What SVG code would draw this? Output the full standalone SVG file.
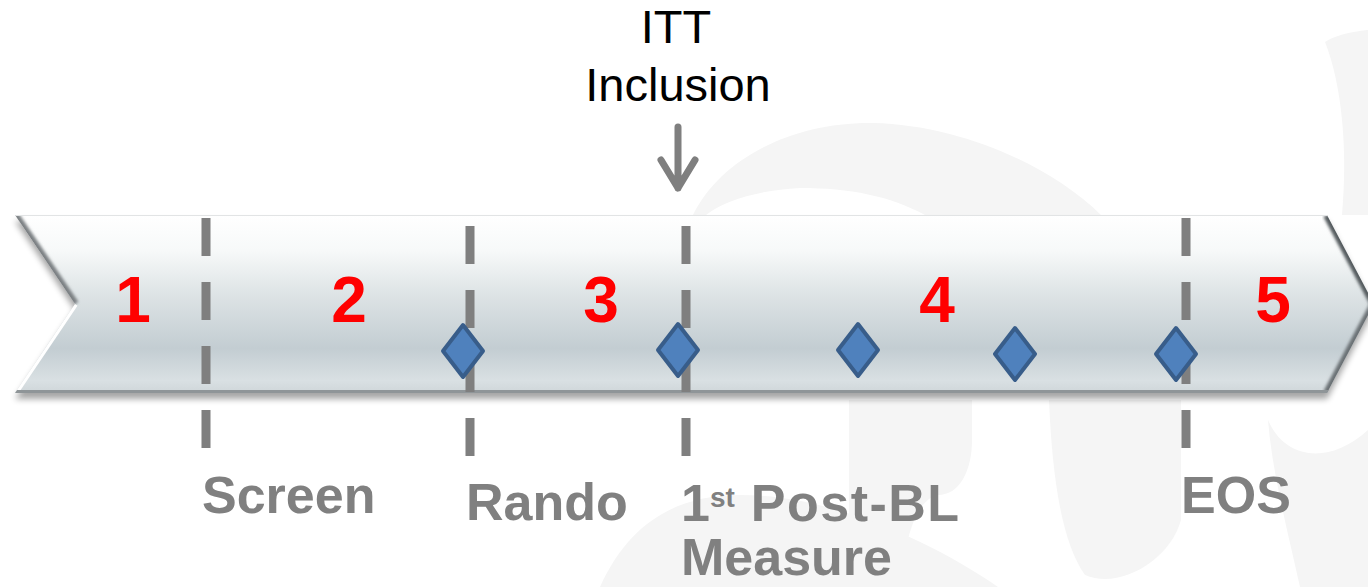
<svg xmlns="http://www.w3.org/2000/svg" width="1368" height="587" viewBox="0 0 1368 587">
  <defs>
    <style>
      .phase { font-family: "Liberation Sans", Arial, sans-serif; font-weight: bold; font-size: 64px; fill: #ff0000; text-anchor: middle; }
      .label { font-family: "Liberation Sans", Arial, sans-serif; font-weight: bold; font-size: 52px; fill: #808080; }
      .callout { font-family: "Liberation Sans", Arial, sans-serif; font-size: 47px; fill: #000000; text-anchor: middle; }
      .marker { stroke: #7f7f7f; stroke-width: 9; stroke-dasharray: 38 26; fill: none; }
      .visit { fill: #4f81bd; stroke: #385d8a; stroke-width: 4; stroke-linejoin: round; }
      .wm { fill: #f5f5f5; }
    </style>
    <linearGradient id="barFill" x1="0" y1="215" x2="0" y2="393" gradientUnits="userSpaceOnUse">
      <stop offset="0" stop-color="#ffffff"/>
      <stop offset="0.2" stop-color="#f7f9f9"/>
      <stop offset="0.45" stop-color="#dde3e5"/>
      <stop offset="0.75" stop-color="#c3cdd2"/>
      <stop offset="0.93" stop-color="#d9e0e3"/>
      <stop offset="1" stop-color="#cfd6d9"/>
    </linearGradient>
    <filter id="soft" x="-5%" y="-20%" width="110%" height="140%">
      <feGaussianBlur stdDeviation="3"/>
    </filter>
    <filter id="edgeBlur" x="-10%" y="-10%" width="120%" height="120%">
      <feGaussianBlur stdDeviation="1.5"/>
    </filter>
    <clipPath id="barClip">
      <polygon points="15,215 1327,215 1374,304 1327,393 15,393 75,304"/>
    </clipPath>
    <path id="diamond" d="M 0 -26 L 20 0 L 0 26 L -20 0 Z"/>
  </defs>

  <rect width="1368" height="587" fill="#ffffff"/>

  <!-- faint watermark artwork in the background -->
  <g id="watermark">
    <path class="wm" d="M 693 215 C 720 160 790 122 873 123 C 960 125 1050 165 1101 215 L 925 215 C 890 196 850 188 800 188 C 760 190 725 200 706 215 Z"/>
    <path class="wm" d="M 1325 42 C 1340 32 1368 30 1368 30 L 1368 215 L 1342 215 C 1348 150 1342 85 1325 42 Z"/>
    <path class="wm" d="M 849 400 L 849 587 L 900 587 C 905 540 915 500 938 495 C 960 495 972 470 972 440 L 972 400 Z"/>
    <path class="wm" d="M 1049 400 C 1052 470 1060 540 1085 575 C 1120 590 1170 560 1181 520 L 1181 400 Z"/>
    <path class="wm" d="M 1268 420 C 1285 460 1330 465 1368 430 L 1368 587 L 1300 587 C 1285 520 1272 470 1268 420 Z"/>
    <path class="wm" d="M 600 587 C 630 520 680 495 740 495 C 830 495 930 540 998 587 Z"/>
  </g>

  <!-- timeline chevron bar -->
  <g id="bar">
    <polygon points="15,221 1327,221 1374,310 1327,399 15,399 75,310" fill="#000000" opacity="0.35" filter="url(#soft)"/>
    <polygon points="15,215 1327,215 1374,304 1327,393 15,393 75,304" fill="url(#barFill)"/>
    <g clip-path="url(#barClip)">
      <line x1="15" y1="215" x2="75" y2="304" stroke="#7b8083" stroke-width="8" filter="url(#edgeBlur)"/>
      <line x1="75" y1="304" x2="15" y2="393" stroke="#ffffff" stroke-width="6"/>
      <line x1="1327" y1="215" x2="1374" y2="304" stroke="#555b5f" stroke-width="8" filter="url(#edgeBlur)"/>
      <line x1="1374" y1="304" x2="1327" y2="393" stroke="#6b7175" stroke-width="8" filter="url(#edgeBlur)"/>
      <line x1="15" y1="393" x2="1374" y2="393" stroke="#8f9598" stroke-width="6"/>
      <line x1="15" y1="215.5" x2="1330" y2="215.5" stroke="#e2e4e5" stroke-width="1"/>
    </g>
  </g>

  <!-- visit boundaries -->
  <g id="boundaries">
    <line class="marker" x1="206" y1="218" x2="206" y2="448"/>
    <line class="marker" x1="470" y1="226" x2="470" y2="456"/>
    <line class="marker" x1="686" y1="226" x2="686" y2="456"/>
    <line class="marker" x1="1186" y1="218" x2="1186" y2="448"/>
  </g>

  <!-- phase numbers -->
  <g id="phases">
    <text class="phase" x="133" y="322">1</text>
    <text class="phase" x="349" y="322">2</text>
    <text class="phase" x="601" y="322">3</text>
    <text class="phase" x="937" y="322">4</text>
    <text class="phase" x="1273" y="322">5</text>
  </g>

  <!-- measurement visits -->
  <g id="visits">
    <use href="#diamond" class="visit" x="463" y="351"/>
    <use href="#diamond" class="visit" x="678" y="350"/>
    <use href="#diamond" class="visit" x="858" y="350"/>
    <use href="#diamond" class="visit" x="1015" y="354"/>
    <use href="#diamond" class="visit" x="1176" y="354"/>
  </g>

  <!-- milestone labels -->
  <g id="label-screen"><text class="label" x="202" y="513">Screen</text></g>
  <g id="label-rando"><text class="label" x="466" y="520">Rando</text></g>
  <g id="label-postbl">
    <text class="label" x="681" y="521">1<tspan font-size="28" dy="-14">st</tspan><tspan dy="14" letter-spacing="1.5"> Post-BL</tspan></text>
    <text class="label" x="681" y="575">Measure</text>
  </g>
  <g id="label-eos"><text class="label" x="1181" y="513">EOS</text></g>

  <g id="itt-inclusion">
    <text class="callout" x="676" y="43">ITT</text>
    <text class="callout" x="678" y="101">Inclusion</text>
  </g>

  <g id="connectors">
    <path d="M 678 127 L 678 188 M 661 160 L 678 188 L 695 160" fill="none" stroke="#7f7f7f" stroke-width="7" stroke-linecap="round" stroke-linejoin="round"/>
  </g>
</svg>
